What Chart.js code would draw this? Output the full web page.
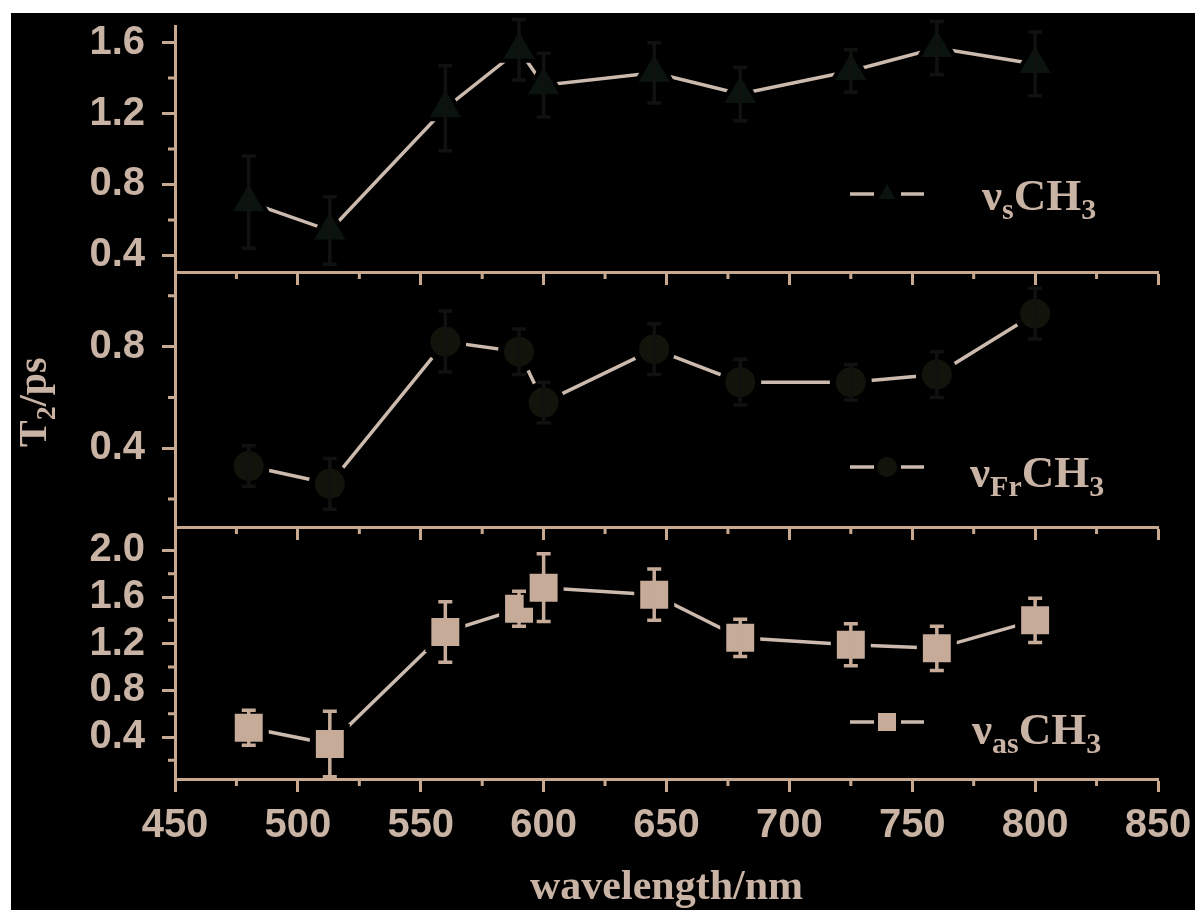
<!DOCTYPE html>
<html>
<head>
<meta charset="utf-8">
<script src="https://cdn.jsdelivr.net/npm/chart.js@4.4.1/dist/chart.umd.min.js"></script>
<style>
  html, body { margin: 0; padding: 0; background: #fff; }
  #wrap { position: relative; width: 1195px; height: 910px; overflow: hidden; }
  #bg { position: absolute; left: 11px; top: 13px; right: 0; bottom: 0; background: #000; }
  canvas { position: absolute; left: 0; top: 0; }
</style>
</head>
<body>
<div id="wrap">
  <div id="bg"></div>
  <canvas id="cTop" width="1195" height="910"></canvas>
  <canvas id="cMid" width="1195" height="910"></canvas>
  <canvas id="cBot" width="1195" height="910"></canvas>
</div>
<script>
// values (wavelength in nm, T2 in ps)
var wavelengths = [480, 513, 560, 590, 600, 645, 680, 725, 760, 800];

var vsValues  = [0.70, 0.54, 1.23, 1.56, 1.36, 1.43, 1.31, 1.44, 1.57, 1.48];
var vsErrors  = [0.26, 0.19, 0.24, 0.17, 0.18, 0.17, 0.15, 0.12, 0.15, 0.18];

var vfrValues = [0.33, 0.26, 0.82, 0.78, 0.58, 0.79, 0.66, 0.66, 0.69, 0.93];
var vfrErrors = [0.08, 0.10, 0.12, 0.09, 0.08, 0.10, 0.09, 0.07, 0.09, 0.10];

var vasValues = [0.48, 0.34, 1.30, 1.50, 1.68, 1.62, 1.25, 1.19, 1.16, 1.40];
var vasErrors = [0.15, 0.28, 0.26, 0.15, 0.29, 0.22, 0.16, 0.18, 0.19, 0.19];

var xTicks = [450, 500, 550, 600, 650, 700, 750, 800, 850];
var xMinor = [475, 525, 575, 625, 675, 725, 775, 825];

var yTicksTop = [0.4, 0.8, 1.2, 1.6];
var yMinorTop = [0.6, 1.0, 1.4];
var yTicksMid = [0.4, 0.8];
var yMinorMid = [0.2, 0.6, 1.0];
var yTicksBot = [0.4, 0.8, 1.2, 1.6, 2.0];
var yMinorBot = [0.2, 0.6, 1.0, 1.4, 1.8];

var axisColor = '#c9a890';
var textColor = '#c8b3a4';
var lineColor = '#cbbaad';
var squareColor = '#c6ab99';
var darkMark = '#0b130e';
var darkBar = '#0f120e';

var tickFont = { family: '"Liberation Sans", Arial, sans-serif', size: 40, weight: 'bold' };

function drawRich(ctx, parts, x, y, big, small, drop) {
  parts.forEach(function(p) {
    ctx.font = 'bold ' + (p.sub ? small : big) + 'px "Liberation Serif", "Times New Roman", serif';
    ctx.fillText(p.t, x, p.sub ? y + drop : y);
    x += ctx.measureText(p.t).width;
  });
}

function drawMarker(ctx, style, x, y, r, fill) {
  ctx.fillStyle = fill;
  ctx.beginPath();
  if (style === 'triangle') {
    ctx.moveTo(x, y - r);
    ctx.lineTo(x + r * 0.866, y + r / 2);
    ctx.lineTo(x - r * 0.866, y + r / 2);
    ctx.closePath();
  } else if (style === 'circle') {
    ctx.arc(x, y, r, 0, Math.PI * 2);
  } else {
    ctx.rect(x - r, y - r, r * 2, r * 2);
  }
  ctx.fill();
}

function panelPlugin(cfg) {
  return {
    id: 'panel_' + cfg.name,
    afterDatasetsDraw: function(chart) {
      var xs = chart.scales.x, ys = chart.scales.y, ctx = chart.ctx;
      ctx.save();
      ctx.strokeStyle = cfg.barColor;
      ctx.lineWidth = 3.5;
      for (var i = 0; i < wavelengths.length; i++) {
        var px = xs.getPixelForValue(wavelengths[i]);
        var hi = ys.getPixelForValue(cfg.values[i] + cfg.errors[i]);
        var lo = ys.getPixelForValue(cfg.values[i] - cfg.errors[i]);
        ctx.beginPath();
        ctx.moveTo(px, hi); ctx.lineTo(px, lo);
        ctx.moveTo(px - 7, hi); ctx.lineTo(px + 7, hi);
        ctx.moveTo(px - 7, lo); ctx.lineTo(px + 7, lo);
        ctx.stroke();
      }
      ctx.restore();
    },
    afterDraw: function(chart) {
      var xs = chart.scales.x, ys = chart.scales.y, ctx = chart.ctx;
      var area = chart.chartArea;
      ctx.save();
      // minor ticks
      ctx.strokeStyle = axisColor;
      ctx.lineWidth = 3;
      ctx.beginPath();
      cfg.yMinor.forEach(function(v) {
        var py = ys.getPixelForValue(v);
        ctx.moveTo(area.left, py); ctx.lineTo(area.left - 7, py);
      });
      xMinor.forEach(function(v) {
        var px = xs.getPixelForValue(v);
        ctx.moveTo(px, area.bottom); ctx.lineTo(px, area.bottom + 7);
      });
      ctx.stroke();

      // legend sample
      var ly = cfg.legendY;
      ctx.strokeStyle = lineColor;
      ctx.lineWidth = 3.5;
      ctx.beginPath();
      ctx.moveTo(850, ly); ctx.lineTo(874, ly);
      ctx.moveTo(901, ly); ctx.lineTo(924, ly);
      ctx.stroke();
      drawMarker(ctx, cfg.style, 887, ly, cfg.legendR, cfg.fill);

      ctx.fillStyle = textColor;
      ctx.textAlign = 'left';
      ctx.textBaseline = 'alphabetic';
      drawRich(ctx, cfg.label, cfg.labelX, cfg.labelY, 45, 30, 9);

      if (cfg.yTitle) {
        ctx.save();
        ctx.translate(46, 447);
        ctx.rotate(-Math.PI / 2);
        drawRich(ctx, [{ t: 'T' }, { t: '2', sub: true }, { t: '/ps' }], 0, 0, 40, 28, 9);
        ctx.restore();
      }
      if (cfg.xTitle) {
        ctx.font = 'bold 42px "Liberation Serif", "Times New Roman", serif';
        ctx.textAlign = 'center';
        ctx.fillText('wavelength/nm', (area.left + area.right) / 2, 899);
      }
      ctx.restore();
    }
  };
}

function makePanel(canvasId, cfg) {
  var points = wavelengths.map(function(w, i) { return { x: w, y: cfg.values[i] }; });
  return new Chart(document.getElementById(canvasId), {
    type: 'line',
    data: {
      datasets: [{
        data: points,
        borderColor: lineColor,
        borderWidth: 3.5,
        tension: 0,
        pointStyle: cfg.style,
        pointRadius: cfg.radius,
        pointBackgroundColor: cfg.fill,
        pointBorderColor: '#000',
        pointBorderWidth: cfg.halo,
        clip: false
      }]
    },
    options: {
      responsive: false,
      animation: false,
      events: [],
      layout: { padding: { top: cfg.top, bottom: cfg.padBottom, left: 0, right: 37 } },
      plugins: { legend: { display: false }, tooltip: { enabled: false } },
      scales: {
        x: {
          type: 'linear', min: 450, max: 850,
          afterBuildTicks: function(s) { s.ticks = xTicks.map(function(v) { return { value: v }; }); },
          afterFit: function(s) { s.height = cfg.xHeight; s.paddingLeft = 0; s.paddingRight = 0; },
          border: { color: axisColor, width: 3 },
          grid: { drawOnChartArea: false, tickLength: 13, tickWidth: 3, tickColor: axisColor, color: axisColor },
          ticks: { display: cfg.showX, color: textColor, font: tickFont, padding: 10, maxRotation: 0 }
        },
        y: {
          type: 'linear', min: cfg.min, max: cfg.max,
          afterBuildTicks: function(s) { s.ticks = cfg.yTicks.map(function(v) { return { value: v }; }); },
          afterFit: function(s) { s.width = 175; s.paddingTop = 0; s.paddingBottom = 0; },
          border: { color: axisColor, width: 3 },
          grid: { drawOnChartArea: false, tickLength: 13, tickWidth: 3, tickColor: axisColor, color: axisColor },
          ticks: {
            color: textColor, font: tickFont, padding: 17,
            callback: function(v) { return Number(v).toFixed(1); }
          }
        }
      }
    },
    plugins: [panelPlugin(cfg)]
  });
}

makePanel('cTop', {
  name: 'vs', values: vsValues, errors: vsErrors,
  min: 0.306, max: 1.694, yTicks: yTicksTop, yMinor: yMinorTop,
  top: 21, xHeight: 20, padBottom: 910 - 272 - 20, showX: false,
  style: 'triangle', radius: 22, halo: 4, fill: darkMark, barColor: darkBar,
  legendY: 194, legendR: 10,
  label: [{ t: 'ν' }, { t: 's', sub: true }, { t: 'CH' }, { t: '3', sub: true }], labelX: 982, labelY: 210
});

makePanel('cMid', {
  name: 'vfr', values: vfrValues, errors: vfrErrors,
  min: 0.09, max: 1.09, yTicks: yTicksMid, yMinor: yMinorMid,
  top: 273, xHeight: 20, padBottom: 910 - 527 - 20, showX: false,
  style: 'circle', radius: 18, halo: 6, fill: '#12130b', barColor: darkBar,
  legendY: 467, legendR: 10, yTitle: true,
  label: [{ t: 'ν' }, { t: 'Fr', sub: true }, { t: 'CH' }, { t: '3', sub: true }], labelX: 970, labelY: 487
});

makePanel('cBot', {
  name: 'vas', values: vasValues, errors: vasErrors,
  min: 0.04, max: 2.2, yTicks: yTicksBot, yMinor: yMinorBot,
  top: 527, xHeight: 131, padBottom: 0, showX: true,
  style: 'rect', radius: 24, halo: 6, fill: squareColor, barColor: squareColor,
  legendY: 722, legendR: 9, xTitle: true,
  label: [{ t: 'ν' }, { t: 'as', sub: true }, { t: 'CH' }, { t: '3', sub: true }], labelX: 972, labelY: 744
});
</script>
</body>
</html>
